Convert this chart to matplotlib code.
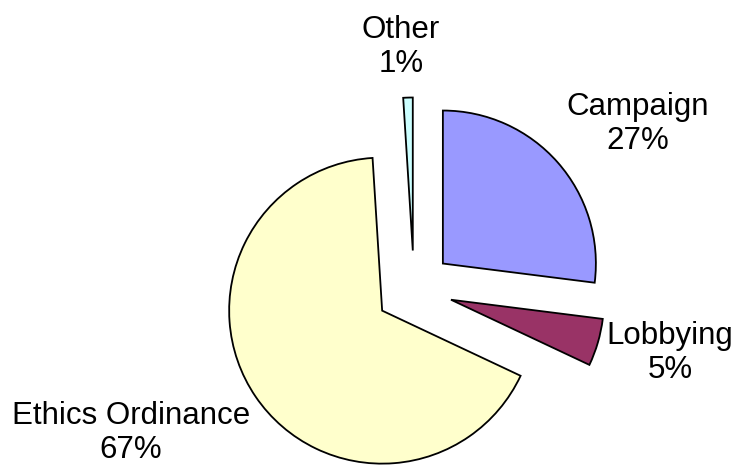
import matplotlib
matplotlib.use("Agg")
import matplotlib.pyplot as plt

categories = ["Campaign", "Lobbying", "Ethics Ordinance", "Other"]
values = [27, 5, 67, 1]
colors = ["#9999FF", "#993366", "#FFFFCC", "#CCFFFF"]

W, H = 736, 468
fig = plt.figure(figsize=(W / 100, H / 100), dpi=100)
ax = fig.add_axes([0, 0, 1, 1])

center = (414, H - 289)
radius = 153
ax.pie(values, colors=colors, startangle=90, counterclock=False,
       explode=[38.5] * len(values), radius=radius, center=center,
       wedgeprops=dict(edgecolor="black", linewidth=1.3), frame=True)

label_pos = [(638, 124), (670, 353), (131, 433), (401, 47)]
for cat, val, (x, y) in zip(categories, values, label_pos):
    ax.text(x, H - y, f"{cat}\n{val}%", ha="center", va="center",
            multialignment="center", fontsize=22.5,
            family=["Liberation Sans", "DejaVu Sans"], linespacing=1.15)

ax.set_xlim(0, W)
ax.set_ylim(0, H)
ax.set_aspect("equal")
ax.axis("off")
fig.savefig("out.png", dpi=100, facecolor="white")
